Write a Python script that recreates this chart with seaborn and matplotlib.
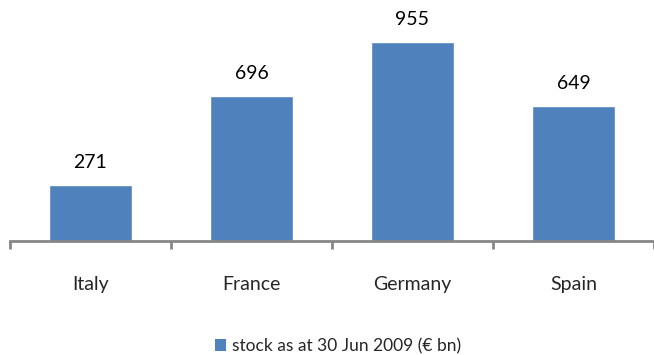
import matplotlib
matplotlib.use("Agg")
import matplotlib.pyplot as plt
import seaborn as sns
import pandas as pd
from matplotlib.patches import Patch

countries = ["Italy", "France", "Germany", "Spain"]
stock = [271, 696, 955, 649]
series_name = "stock as at 30 Jun 2009 (\u20ac bn)"

bar_color = "#4F81BD"
axis_color = "#868686"

sns.set_theme(style="white")
plt.rcParams["font.family"] = ["Lato", "DejaVu Sans"]

df = pd.DataFrame({"country": countries, "stock": stock})

fig = plt.figure(figsize=(6.54, 3.55), dpi=100)
ax = fig.add_axes([10 / 654, (355 - 241) / 355, 644 / 654, 241 / 355])

sns.barplot(data=df, x="country", y="stock", color=bar_color, width=0.51,
            saturation=1, ax=ax)

ax.set_xlim(-0.5, 3.5)
ax.set_ylim(0, 1156)

for p, v in zip(ax.patches, stock):
    ax.annotate(f"{v}", (p.get_x() + p.get_width() / 2, p.get_height()),
                xytext=(0, 10), textcoords="offset points",
                ha="center", va="bottom", fontsize=14, color="black")

for side in ("left", "top", "right"):
    ax.spines[side].set_visible(False)
ax.spines["bottom"].set_color(axis_color)
ax.spines["bottom"].set_linewidth(2)
ax.set_yticks([])
ax.set_xlabel("")
ax.set_ylabel("")

ax.set_xticks(range(len(countries)))
ax.set_xticklabels(countries, fontsize=14)
ax.tick_params(axis="x", which="major", length=0, pad=25)
ax.set_xticks([-0.5, 0.5, 1.5, 2.5, 3.5], minor=True)
ax.tick_params(axis="x", which="minor", length=6, width=2, color=axis_color,
               direction="out", bottom=True)

handles = [Patch(facecolor=bar_color, edgecolor="none", label=series_name)]
fig.legend(handles=handles, loc="center", bbox_to_anchor=(338 / 654, 1 - 346 / 355),
           frameon=False, fontsize=12.5, handlelength=0.65, handleheight=0.65,
           handletextpad=0.3)

fig.savefig("out.png", dpi=100)
